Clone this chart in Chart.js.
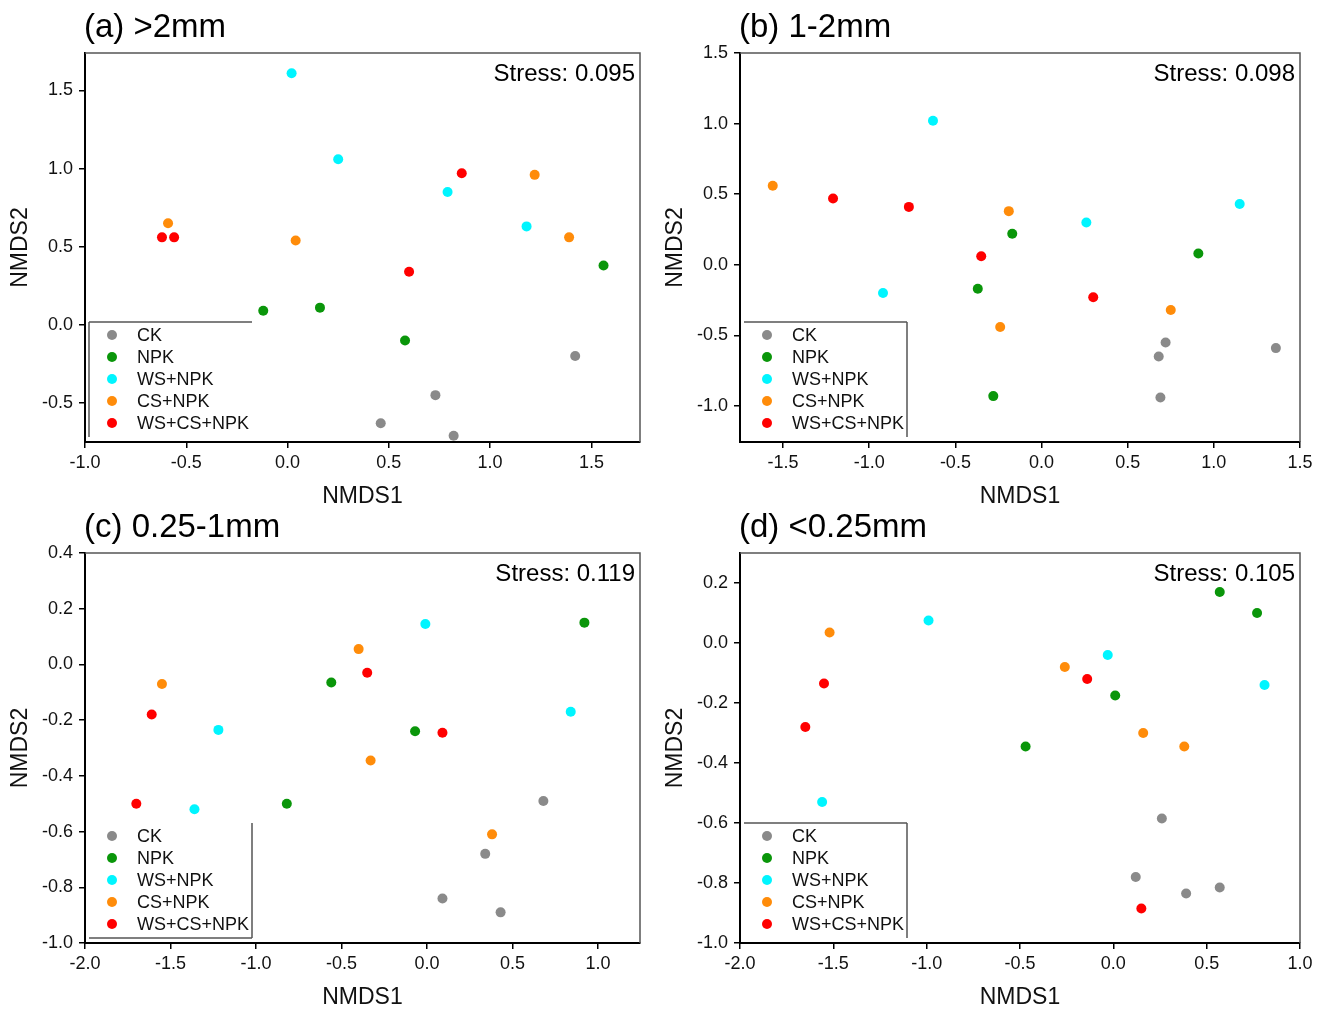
<!DOCTYPE html>
<html>
<head>
<meta charset="utf-8">
<script src="https://cdn.jsdelivr.net/npm/chart.js@4"></script>
<style>
  body { margin: 0; background: #fff; }
  canvas { position: absolute; }
</style>
</head>
<body>
<canvas id="ca" width="662" height="510" style="left:0px;top:0px"></canvas>
<canvas id="cb" width="667" height="510" style="left:655px;top:0px"></canvas>
<canvas id="cc" width="662" height="511" style="left:0px;top:500px"></canvas>
<canvas id="cd" width="667" height="511" style="left:655px;top:500px"></canvas>
<script>
const groups = ['CK', 'NPK', 'WS+NPK', 'CS+NPK', 'WS+CS+NPK'];
const groupColors = ['#8a8a8a', '#0a960a', '#00f5ff', '#ff8c0a', '#ff0000'];

// (a) >2mm  -- one inner array per group, same order as groups
const aX = [[0.46, 0.73, 0.82, 1.42], [-0.12, 0.16, 0.58, 1.56], [0.02, 0.25, 0.79, 1.18], [-0.59, 0.04, 1.22, 1.39], [-0.62, -0.56, 0.86, 0.60]];
const aY = [[-0.63, -0.45, -0.71, -0.20], [0.09, 0.11, -0.10, 0.38], [1.61, 1.06, 0.85, 0.63], [0.65, 0.54, 0.96, 0.56], [0.56, 0.56, 0.97, 0.34]];

// (b) 1-2mm
const bX = [[1.36, 0.72, 0.68, 0.69], [-0.17, 0.91, -0.37, -0.28], [-0.63, 0.26, 1.15, -0.92], [-1.56, -0.19, 0.75, -0.24], [-1.21, -0.77, -0.35, 0.30]];
const bY = [[-0.59, -0.55, -0.65, -0.94], [0.22, 0.08, -0.17, -0.93], [1.02, 0.30, 0.43, -0.20], [0.56, 0.38, -0.32, -0.44], [0.47, 0.41, 0.06, -0.23]];

// (c) 0.25-1mm
const cX = [[0.68, 0.34, 0.09, 0.43], [0.92, -0.56, -0.07, -0.82], [-0.01, 0.84, -1.22, -1.36], [-0.40, -1.55, -0.33, 0.38], [-0.35, -1.61, 0.09, -1.70]];
const cY = [[-0.49, -0.68, -0.84, -0.89], [0.15, -0.065, -0.24, -0.50], [0.145, -0.17, -0.235, -0.52], [0.055, -0.07, -0.345, -0.61], [-0.03, -0.18, -0.245, -0.50]];

// (d) <0.25mm
const dX = [[0.26, 0.12, 0.39, 0.57], [0.57, 0.77, 0.01, -0.47], [-0.99, -0.03, 0.81, -1.56], [-1.52, -0.26, 0.16, 0.38], [-0.14, -1.55, -1.65, 0.15]];
const dY = [[-0.585, -0.78, -0.835, -0.815], [0.17, 0.10, -0.175, -0.345], [0.075, -0.04, -0.14, -0.53], [0.035, -0.08, -0.30, -0.345], [-0.12, -0.135, -0.28, -0.885]];

const font = '"Liberation Sans", Arial, sans-serif';

const fmt = v => (Math.abs(v) < 1e-9 ? 0 : v).toFixed(1);

const decor = {
  id: 'decor',
  afterDraw(chart, args, o) {
    const { ctx, chartArea: a } = chart;
    ctx.save();
    // top and right frame
    ctx.strokeStyle = '#555';
    ctx.lineWidth = 1.5;
    ctx.beginPath();
    ctx.moveTo(a.left, a.top);
    ctx.lineTo(a.right, a.top);
    ctx.lineTo(a.right, a.bottom);
    ctx.stroke();

    ctx.fillStyle = '#000';
    ctx.textBaseline = 'middle';
    ctx.textAlign = 'left';
    ctx.font = '33px ' + font;
    ctx.fillText(o.title, a.left - 1, 28);

    ctx.font = '24px ' + font;
    ctx.textAlign = 'right';
    ctx.fillText(o.stress, a.right - 5, a.top + 21);

    // legend
    const bl = a.left + 4, br = a.left + 167, bt = a.bottom - 120, bb = a.bottom - 5;
    ctx.strokeStyle = '#555';
    ctx.lineWidth = 1.5;
    ctx.beginPath();
    if (o.frame.includes('top')) { ctx.moveTo(bl, bt); ctx.lineTo(br, bt); }
    if (o.frame.includes('left')) { ctx.moveTo(bl, bt); ctx.lineTo(bl, bb); }
    if (o.frame.includes('right')) { ctx.moveTo(br, bt); ctx.lineTo(br, bb); }
    if (o.frame.includes('bottom')) { ctx.moveTo(bl, bb); ctx.lineTo(br, bb); }
    ctx.stroke();

    ctx.font = '18px ' + font;
    ctx.textAlign = 'left';
    chart.data.datasets.forEach((ds, i) => {
      const y = a.bottom - 107 + i * 22;
      ctx.fillStyle = ds.backgroundColor;
      ctx.beginPath();
      ctx.arc(a.left + 27, y, 5, 0, Math.PI * 2);
      ctx.fill();
      ctx.fillStyle = '#111';
      ctx.fillText(ds.label, a.left + 52, y + 1);
    });
    ctx.restore();
  }
};

function makeChart(id, xs, ys, xr, yr, ystep, padRight, title, stress, frame) {
  const datasets = groups.map((g, i) => ({
    label: g,
    data: xs[i].map((x, k) => ({ x: x, y: ys[i][k] })),
    backgroundColor: groupColors[i],
    borderWidth: 0,
    pointRadius: 5
  }));
  const tickFont = { family: font, size: 18 };
  new Chart(document.getElementById(id), {
    type: 'scatter',
    data: { datasets: datasets },
    options: {
      responsive: false,
      animation: false,
      layout: { padding: { left: 0, right: padRight, top: 53, bottom: 0 } },
      plugins: {
        legend: { display: false },
        tooltip: { enabled: false },
        decor: { title: title, stress: stress, frame: frame }
      },
      scales: {
        x: {
          min: xr[0], max: xr[1],
          afterFit(s) { s.height = 68; },
          border: { color: '#000', width: 2 },
          grid: { drawOnChartArea: false, tickLength: 6, color: '#000', lineWidth: 1.5 },
          ticks: { stepSize: 0.5, includeBounds: false, color: '#111', font: tickFont, padding: 4,
                   maxRotation: 0, callback: fmt },
          title: { display: true, text: 'NMDS1', color: '#111', font: { family: font, size: 23 }, padding: { top: 0, bottom: 0 } }
        },
        y: {
          min: yr[0], max: yr[1],
          afterFit(s) { s.width = 85; },
          border: { color: '#000', width: 2 },
          grid: { drawOnChartArea: false, tickLength: 6, color: '#000', lineWidth: 1.5 },
          ticks: { stepSize: ystep, includeBounds: false, color: '#111', font: tickFont, padding: 6,
                   callback: fmt },
          title: { display: true, text: 'NMDS2', color: '#111', font: { family: font, size: 23 }, padding: { top: 7, bottom: 0 } }
        }
      }
    },
    plugins: [decor]
  });
}

makeChart('ca', aX, aY, [-1.0, 1.74], [-0.75, 1.74], 0.5, 22, '(a) >2mm', 'Stress: 0.095', ['top', 'left']);
makeChart('cb', bX, bY, [-1.75, 1.5], [-1.255, 1.5], 0.5, 22, '(b) 1-2mm', 'Stress: 0.098', ['top', 'right']);
makeChart('cc', cX, cY, [-2.0, 1.245], [-1.0, 0.4], 0.2, 22, '(c) 0.25-1mm', 'Stress: 0.119', ['right', 'bottom']);
makeChart('cd', dX, dY, [-2.0, 1.0], [-1.0, 0.3], 0.2, 22, '(d) <0.25mm', 'Stress: 0.105', ['top', 'right']);
</script>
</body>
</html>
